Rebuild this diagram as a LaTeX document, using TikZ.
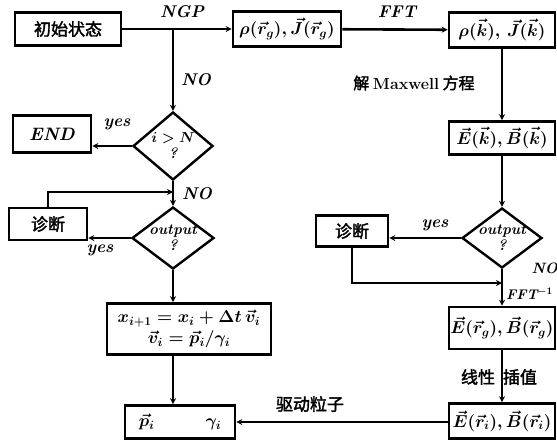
\documentclass[tikz,border=0pt]{standalone}
\usepackage{fontspec}
\usepackage{amsmath}
\newfontfamily\cjk{Noto Sans CJK SC}[FakeBold=2]
\usetikzlibrary{shapes.geometric,arrows.meta}
\begin{document}
\begin{tikzpicture}[x=1pt,y=-1pt,
  box/.style={draw,line width=2.6pt,inner sep=1pt,align=center,font=\bfseries\fontsize{17}{20}\selectfont},
  dia/.style={draw,diamond,line width=2.4pt,inner sep=-14pt,align=center,font=\bfseries\itshape\fontsize{15}{16}\selectfont},
  arr/.style={line width=2.6pt,-{Stealth[length=6pt,width=6pt]}},
  lab/.style={font=\bfseries\itshape\fontsize{17}{19}\selectfont},
  clab/.style={font=\cjk\fontsize{17}{19}\selectfont}]
\useasboundingbox (0,0) rectangle (557,440);
% nodes
\node[box,minimum width=106pt,minimum height=33pt,font=\cjk\fontsize{17}{19}\selectfont] (init) at (68,29) {初始状态};
\node[box,minimum width=108pt,minimum height=35pt] (rhog) at (287,29) {$\boldsymbol{\rho(\vec r_g),\vec J(\vec r_g)}$};
\node[box,minimum width=106pt,minimum height=35pt] (rhok) at (502,30) {$\boldsymbol{\rho(\vec k),\,\vec J(\vec k)}$};
\node[box,minimum width=78pt,minimum height=37pt,font=\bfseries\itshape\fontsize{18}{20}\selectfont] (end) at (52,134) {END};
\node[dia,minimum width=80pt,minimum height=68pt] (d1) at (173,146) {$\boldsymbol{i>N}$\\?};
\node[box,minimum width=78pt,minimum height=32pt,font=\cjk\fontsize{17}{19}\selectfont] (diag1) at (48,224) {诊断};
\node[dia,minimum width=82pt,minimum height=62pt] (d2) at (173,238) {output\\?};
\node[box,minimum width=164pt,minimum height=51pt] (form) at (189,329) {$\boldsymbol{x_{i+1}=x_i+\Delta t\,\vec v_i}$\\[1pt]$\boldsymbol{\vec v_i=\vec p_i/\gamma_i}$};
\node[box,minimum width=110pt,minimum height=33pt] (pbox) at (180,422) {$\boldsymbol{\vec p_i\qquad\quad\gamma_i}$};
\node[box,minimum width=106pt,minimum height=33pt] (ek) at (502,138) {$\boldsymbol{\vec E(\vec k),\vec B(\vec k)}$};
\node[dia,minimum width=80pt,minimum height=60pt] (d3) at (502,238) {output\\?};
\node[box,minimum width=72pt,minimum height=31pt,font=\cjk\fontsize{17}{19}\selectfont] (diag2) at (352,231) {诊断};
\node[box,minimum width=106pt,minimum height=42pt] (er) at (502,328) {$\boldsymbol{\vec E(\vec r_g),\vec B(\vec r_g)}$};
\node[box,minimum width=106pt,minimum height=35pt] (br) at (502,421) {$\boldsymbol{\vec E(\vec r_i),\vec B(\vec r_i)}$};
% junctions
\coordinate (j1) at (173,29);
\coordinate (j2) at (173,192);
\coordinate (j3) at (502,283);
% connectors
\draw[arr] (init) -- (rhog);
\draw[arr] (j1) -- (d1.north);
\draw[arr] (rhog) -- (rhok);
\draw[arr] (rhok) -- (ek);
\draw[arr] (d1.west) -- (d1.west -| end.east);
\draw[arr] (d1.south) -- (d2.north);
\draw[arr] (diag1.north) |- (j2);
\draw[arr] (d2.west) -- (d2.west -| diag1.east);
\draw[arr] (d2.south) -- (d2.south |- form.north);
\draw[arr] (form.south -| d2.south) -- (pbox.north -| d2.south);
\draw[arr] (br.west |- pbox.east) -- (pbox.east);
\draw[arr] (ek) -- (d3.north);
\draw[arr] (d3.west) -- (d3.west -| diag2.east);
\draw[arr] (diag2.south) |- (j3);
\draw[arr] (d3.south) -- (er.north);
\draw[arr] (er) -- (br);
% labels
\node[lab] (lngp) at (182,12) {NGP};
\node[lab] (lfft) at (397,12) {FFT};
\node[lab] (lno1) at (196,80) {NO};
\node[lab] (lyes1) at (117,124) {yes};
\node[lab] (lno2) at (197,194) {NO};
\node[lab] (lyes2) at (100,250) {yes};
\node[font=\cjk\fontsize{16}{18}\selectfont] (lmax) at (414,83) {解 {\rmfamily\bfseries Maxwell} 方程};
\node[lab] (lyes3) at (435,225) {yes};
\node[lab,anchor=west,font=\bfseries\itshape\fontsize{15}{17}\selectfont] (lno3) at (528,268) {NO};
\node[lab,anchor=west,inner sep=1pt,font=\bfseries\itshape\fontsize{14}{16}\selectfont] (lfft2) at (505,294) {FFT$^{\boldsymbol{-1}}$};
\node[clab] (linterp) at (499,377) {线性\hspace{8pt}插值};
\node[clab] (ldrive) at (310,404) {驱动粒子};
\end{tikzpicture}
\end{document}
